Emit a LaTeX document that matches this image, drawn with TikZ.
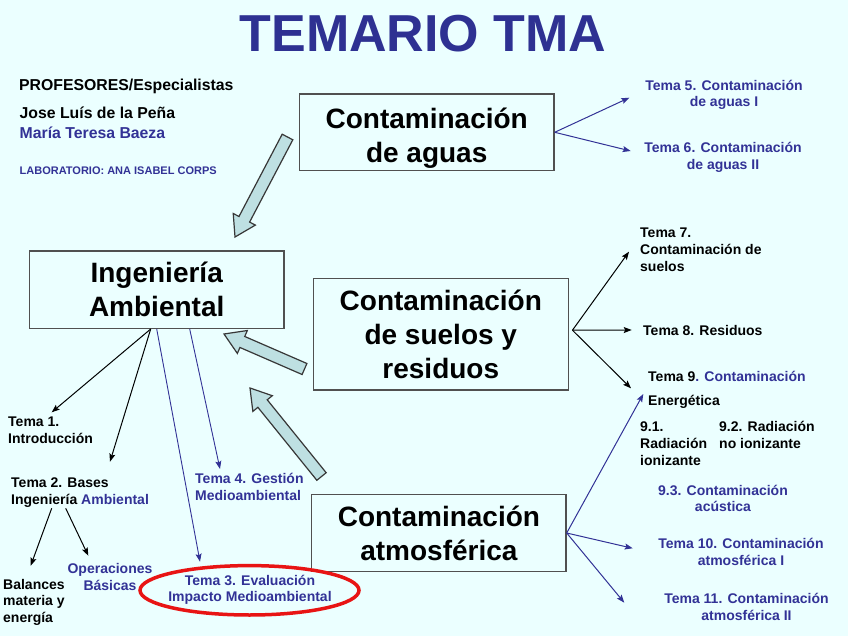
\documentclass[tikz,border=0pt]{standalone}
\usepackage{fontspec}
\setmainfont{Liberation Sans}
\usetikzlibrary{arrows.meta,calc}
\definecolor{bg}{RGB}{235,255,255}
\definecolor{tblue}{RGB}{50,50,150}
\definecolor{ttitle}{RGB}{46,49,146}
\definecolor{boxgray}{RGB}{80,80,80}
\definecolor{fatfill}{RGB}{190,224,226}
\definecolor{fatline}{RGB}{55,55,55}
\definecolor{ovalred}{RGB}{232,20,20}
\newcommand\fatarrow[2]{%
  \coordinate (fh) at ($(#2)!20pt!(#1)$);
  \draw[fatarr] ($(#1)!6pt!90:(#2)$) -- ($(fh)!6pt!90:(#2)$) -- ($(fh)!12.5pt!90:(#2)$) -- (#2)
    -- ($(fh)!12.5pt!-90:(#2)$) -- ($(fh)!6pt!-90:(#2)$) -- ($(#1)!6pt!-90:(#2)$) -- cycle;}
\tikzset{
  box/.style={draw=boxgray, line width=1.3pt, fill=bg, align=center, inner sep=0pt,
    font=\fontsize{28}{34}\selectfont\bfseries},
  lbl/.style={font=\fontsize{14}{16.6}\selectfont\bfseries, inner sep=0pt},
  lblue/.style={lbl, text=tblue},
  head/.style={font=\fontsize{15.8}{18}\selectfont\bfseries, inner sep=0pt, anchor=base west},
  fatarr/.style={draw=fatline, fill=fatfill, line width=1.2pt, line join=miter},
  karr/.style={draw=black, line width=1pt, -{Stealth[length=8pt,width=6pt,inset=1.5pt]}},
  barr/.style={draw=tblue, line width=1pt, -{Stealth[length=8pt,width=6pt,inset=1.5pt]}},
  oval/.style={draw=ovalred, line width=3.5pt},
}
\begin{document}
\begin{tikzpicture}[x=1pt,y=-1pt]
\fill[bg] (0,0) rectangle (848,636);
\useasboundingbox (0,0) rectangle (848,636);
% title
\node[font=\fontsize{52}{60}\selectfont\bfseries, text=ttitle, anchor=base, inner sep=0pt] (title) at (423,52) {TEMARIO TMA};
% header texts
\node[head] (prof) at (19,90.5) {PROFESORES/Especialistas};
\node[head] (jose) at (19.5,118.3) {Jose Luís de la Peña};
\node[head, text=tblue] (maria) at (19.5,138.3) {María Teresa Baeza};
\node[font=\fontsize{11}{13}\selectfont\bfseries, text=tblue, inner sep=0pt, anchor=base west] (lab) at (19.5,174.3) {LABORATORIO: ANA ISABEL CORPS};
% boxes
\node[box, minimum width=254.7pt, minimum height=76.7pt] (agua) at (426.7,132.3) {\rule{0pt}{33pt}Contaminación\\de aguas};
\node[box, minimum width=254.7pt, minimum height=77.3pt] (ing) at (156.7,289.7) {Ingeniería\\Ambiental};
\node[box, minimum width=255pt, minimum height=111.7pt] (suelo) at (440.8,334.2) {Contaminación\\de suelos y\\residuos};
\node[box, minimum width=254.3pt, minimum height=77.4pt] (atm) at (438.9,533) {Contaminación\\atmosférica};
% fat arrows
\coordinate (f1t) at (287.5,137); \coordinate (f1h) at (235,237);
\coordinate (f2t) at (304.5,369); \coordinate (f2h) at (224,334);
\coordinate (f3t) at (321.5,476.5); \coordinate (f3h) at (250,388);
\fatarrow{f1t}{f1h}
\fatarrow{f2t}{f2h}
\fatarrow{f3t}{f3h}
% right labels (base anchor = baseline of last line)
\node[lblue, align=center, anchor=base] (t5) at (724,106.7) {Tema 5. Contaminación\\de aguas I};
\node[lblue, align=center, anchor=base] (t6) at (723,169.3) {Tema 6. Contaminación\\de aguas II};
\node[lbl, align=left, anchor=base west] (t7) at (640,271) {Tema 7.\\Contaminación de\\suelos};
\node[lbl, anchor=base west] (t8) at (643,335.7) {Tema 8. Residuos};
\node[lbl, anchor=base west] (t9) at (648,381) {Tema 9{\color{tblue}. Contaminación}};
\node[lbl, anchor=base west] (energ) at (648,405) {Energética};
\node[lbl, align=left, anchor=base west] (t91) at (640,465) {9.1.\\Radiación\\ionizante};
\node[lbl, align=left, anchor=base west] (t92) at (719,448.3) {9.2. Radiación\\no ionizante};
\node[lblue, align=center, anchor=base] (t93) at (723,511.7) {9.3. Contaminación\\acústica};
\node[lblue, align=center, anchor=base] (t10) at (741,565) {Tema 10. Contaminación\\atmosférica I};
\node[lblue, align=center, anchor=base] (t11) at (746.5,620) {Tema 11. Contaminación\\atmosférica II};
% left labels
\node[lbl, align=left, anchor=base west] (t1) at (8,443.3) {Tema 1.\\Introducción};
\node[lbl, align=left, anchor=base west] (t2) at (11,504.3) {Tema 2. Bases\\Ingeniería {\color{tblue}Ambiental}};
\node[lbl, align=left, anchor=base west] (bal) at (3,622.3) {Balances\\materia y\\energía};
\node[lblue, align=center, anchor=base] (ops) at (110,590) {Operaciones\\Básicas};
\node[lblue, align=left, anchor=base west] (t4) at (195,500) {Tema 4. Gestión\\Medioambiental};
\node[lblue, align=center, anchor=base] (t3) at (250,601.7) {Tema 3. Evaluación\\Impacto Medioambiental};
\draw[oval] (249.5,590.3) ellipse [x radius=109.5pt, y radius=24.7pt];
% arrow end coordinates
\coordinate (e1) at (51.7,412.3);
\coordinate (e2) at (110,461.7);
\coordinate (e3) at (200,561.7);
\coordinate (e4) at (220,469);
\coordinate (t2a) at (51.7,508.3);
\coordinate (t2b) at (65.7,508.3);
\coordinate (ebal) at (30.7,565.7);
\coordinate (eops) at (88.3,555.7);
\coordinate (e5) at (629.3,97.7);
\coordinate (e6) at (630.7,151);
\coordinate (e7) at (629,251.7);
\coordinate (e8) at (631.7,330);
\coordinate (e9) at (631,388.3);
\coordinate (eE) at (643.3,394);
\coordinate (e10) at (632.7,548.3);
\coordinate (e11) at (624.3,602.7);
% thin arrows
\draw[karr] ([xshift=-6pt]ing.south) -- (e1);
\draw[karr] ([xshift=-6pt]ing.south) -- (e2);
\draw[barr, line width=0.9pt] (ing.south) -- (e3);
\draw[barr, line width=0.9pt] ([xshift=33pt]ing.south) -- (e4);
\draw[karr] (t2a) -- (ebal);
\draw[karr] (t2b) -- (eops);
\draw[barr] (agua.east) -- (e5);
\draw[barr] (agua.east) -- (e6);
\coordinate (so) at ($(suelo.east)+(3.5,-4)$);
\draw[karr] (so) -- (e7);
\draw[karr] (so) -- (e8);
\draw[karr] (so) -- (e9);
\draw[barr] (atm.east) -- (eE);
\draw[barr] (atm.east) -- (e10);
\draw[barr] (atm.east) -- (e11);
\end{tikzpicture}
\end{document}
